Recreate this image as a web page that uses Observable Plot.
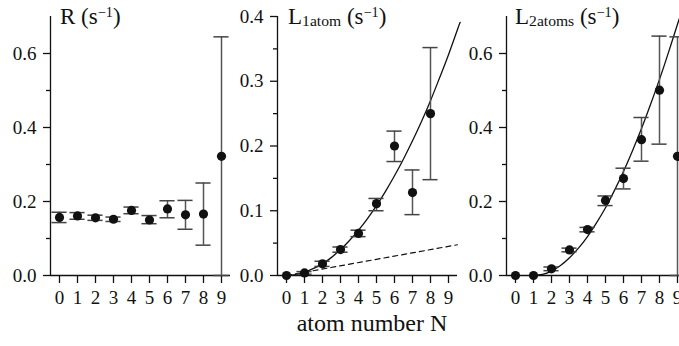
<!DOCTYPE html>
<html>
<head>
<meta charset="utf-8">
<script src="https://cdn.jsdelivr.net/npm/d3@7"></script>
<script src="https://cdn.jsdelivr.net/npm/@observablehq/plot@0.6"></script>
<style>
  html, body { margin: 0; padding: 0; background: #fff; overflow: hidden; }
  #wrap { position: relative; width: 679px; height: 346px; overflow: hidden; font-family: "Liberation Serif", Tinos, "Times New Roman", "Nimbus Roman", "DejaVu Serif", serif; color: #111; }
  .panel { position: absolute; top: 0; width: 240px; height: 346px; }
  .panel svg { max-width: none !important; }
  .t { position: absolute; top: 5px; font-size: 23px; line-height: 23px; white-space: nowrap; }
  .t sub { font-size: 0.68em; line-height: 0; vertical-align: -0.14em; }
  .t sup { font-size: 0.62em; line-height: 0; vertical-align: 0.5em; }
  .xl { position: absolute; top: 311px; left: 372px; transform: translateX(-50%); font-size: 24px; line-height: 24px; white-space: nowrap; }
</style>
</head>
<body>
<div id="wrap">
  <div class="panel" id="p1" style="left:-0.5px"></div>
  <div class="panel" id="p2" style="left:227.3px"></div>
  <div class="panel" id="p3" style="left:455.7px"></div>
  <div class="t" style="left:60px">R (s<sup>−1</sup>)</div>
  <div class="t" style="left:288px">L<sub>1atom</sub> (s<sup>−1</sup>)</div>
  <div class="t" style="left:515px">L<sub>2atoms</sub> (s<sup>−1</sup>)</div>
  <div class="xl">atom number N</div>
</div>
<script>
// ---- data ----
const atomNumbers = [0, 1, 2, 3, 4, 5, 6, 7, 8, 9];

// Panel 1: R (s^-1)
const R_value = [0.157, 0.161, 0.156, 0.152, 0.176, 0.150, 0.180, 0.164, 0.166, 0.322];
const R_low   = [0.143, 0.152, 0.149, 0.146, 0.167, 0.140, 0.156, 0.125, 0.082, 0.000];
const R_high  = [0.171, 0.170, 0.163, 0.158, 0.185, 0.162, 0.202, 0.203, 0.250, 0.645];

// Panel 2: L_1atom (s^-1)
const L1_N     = [0, 1, 2, 3, 4, 5, 6, 7, 8];
const L1_value = [0.000, 0.004, 0.018, 0.040, 0.065, 0.111, 0.200, 0.128, 0.250];
const L1_low   = [null, 0.002, 0.014, 0.036, 0.060, 0.100, 0.176, 0.094, 0.148];
const L1_high  = [null, 0.006, 0.022, 0.044, 0.070, 0.119, 0.223, 0.163, 0.352];
// solid fit curve (read at sampled N)
const L1_fitN = [0, 0.5, 1, 1.5, 2, 2.5, 3, 3.5, 4, 4.5, 5, 5.5, 6, 6.5, 7, 7.5, 8, 8.5, 9, 9.5, 9.65];
const L1_fitV = [0, 0.0015, 0.005, 0.011, 0.018, 0.028, 0.040, 0.054, 0.070, 0.088, 0.108, 0.130, 0.154, 0.180, 0.208, 0.238, 0.270, 0.305, 0.341, 0.380, 0.391];
// dashed linear (single-atom) line
const L1_lineN = [0, 9.5];
const L1_lineV = [0, 0.0475];

// Panel 3: L_2atoms (s^-1)
const L2_value = [0.000, 0.000, 0.018, 0.069, 0.124, 0.203, 0.262, 0.367, 0.501, 0.322];
const L2_low   = [null, null, 0.013, 0.064, 0.118, 0.189, 0.234, 0.309, 0.355, 0.000];
const L2_high  = [null, null, 0.023, 0.074, 0.130, 0.215, 0.290, 0.427, 0.647, 0.645];
const L2_fitN = [1, 1.5, 2, 2.5, 3, 3.5, 4, 4.5, 5, 5.5, 6, 6.5, 7, 7.5, 8, 8.5, 9, 9.15];
const L2_fitV = [0, 0.003, 0.012, 0.027, 0.048, 0.074, 0.105, 0.142, 0.183, 0.230, 0.281, 0.337, 0.397, 0.462, 0.530, 0.603, 0.679, 0.702];

// Tick values
const xTicks = atomNumbers;
const yMajor1 = [0, 0.2, 0.4, 0.6], yMinor1 = [0.1, 0.3, 0.5];
const yMajor2 = [0, 0.1, 0.2, 0.3, 0.4], yMinor2 = [0.05, 0.15, 0.25, 0.35];

// ---- build tables ----
const pts = (ns, v, lo, hi) => ns.map((n, i) => ({n, v: v[i], lo: lo[i], hi: hi[i]}));
const curve = (ns, v) => ns.map((n, i) => ({n, v: v[i]}));

const CAP = 0.42; // cap half-width in N units
function dataMarks(rows) {
  const err = rows.filter(d => d.lo != null && d.hi != null);
  return [
    Plot.ruleX(err, {x: "n", y1: "lo", y2: "hi", stroke: "#555", strokeWidth: 1.5}),
    Plot.ruleY(err, {y: "lo", x1: d => d.n - CAP, x2: d => d.n + CAP, stroke: "#444", strokeWidth: 1.5}),
    Plot.ruleY(err, {y: "hi", x1: d => d.n - CAP, x2: d => d.n + CAP, stroke: "#444", strokeWidth: 1.5}),
    Plot.dot(rows, {x: "n", y: "v", r: 4.6, fill: "#111", stroke: "none"})
  ];
}

const FONT = "'Liberation Serif', Tinos, 'Times New Roman', 'Nimbus Roman', 'DejaVu Serif', serif";
function panel(ydomain, major, minor, marks) {
  return Plot.plot({
    width: 240, height: 346,
    marginLeft: 50, marginRight: 10, marginTop: 16, marginBottom: 71,
    style: `font-family: ${FONT}; font-size: 19px; background: transparent; color: #111; overflow: visible; max-width: none;`,
    x: {domain: [-0.5, 9.5]},
    y: {domain: ydomain},
    marks: [
      Plot.ruleX([-0.5], {y1: ydomain[0], y2: ydomain[1], stroke: "#111", strokeWidth: 1.3}),
      Plot.ruleY([0], {x1: -0.5, x2: 9.5, stroke: "#111", strokeWidth: 1.3}),
      Plot.axisX({ticks: xTicks, tickSize: 8, tickPadding: 7, tickFormat: d => String(d), label: null, strokeWidth: 1.3}),
      Plot.axisY({ticks: major, tickSize: 7, tickPadding: 7, tickFormat: d3.format(".1f"), label: null, strokeWidth: 1.3}),
      Plot.axisY({ticks: minor, tickSize: 4, tickFormat: () => "", label: null, strokeWidth: 1.3}),
      ...marks
    ]
  });
}

document.getElementById("p1").append(
  panel([0, 0.7], yMajor1, yMinor1, dataMarks(pts(atomNumbers, R_value, R_low, R_high)))
);
document.getElementById("p2").append(
  panel([0, 0.4], yMajor2, yMinor2, [
    Plot.line(curve(L1_lineN, L1_lineV), {x: "n", y: "v", stroke: "#111", strokeWidth: 1.2, strokeDasharray: "5,4"}),
    Plot.line(curve(L1_fitN, L1_fitV), {x: "n", y: "v", stroke: "#111", strokeWidth: 1.3, curve: "natural"}),
    ...dataMarks(pts(L1_N, L1_value, L1_low, L1_high))
  ])
);
document.getElementById("p3").append(
  panel([0, 0.7], yMajor1, yMinor1, [
    Plot.line(curve(L2_fitN, L2_fitV), {x: "n", y: "v", stroke: "#111", strokeWidth: 1.3, curve: "natural"}),
    ...dataMarks(pts(atomNumbers, L2_value, L2_low, L2_high))
  ])
);
</script>
</body>
</html>
